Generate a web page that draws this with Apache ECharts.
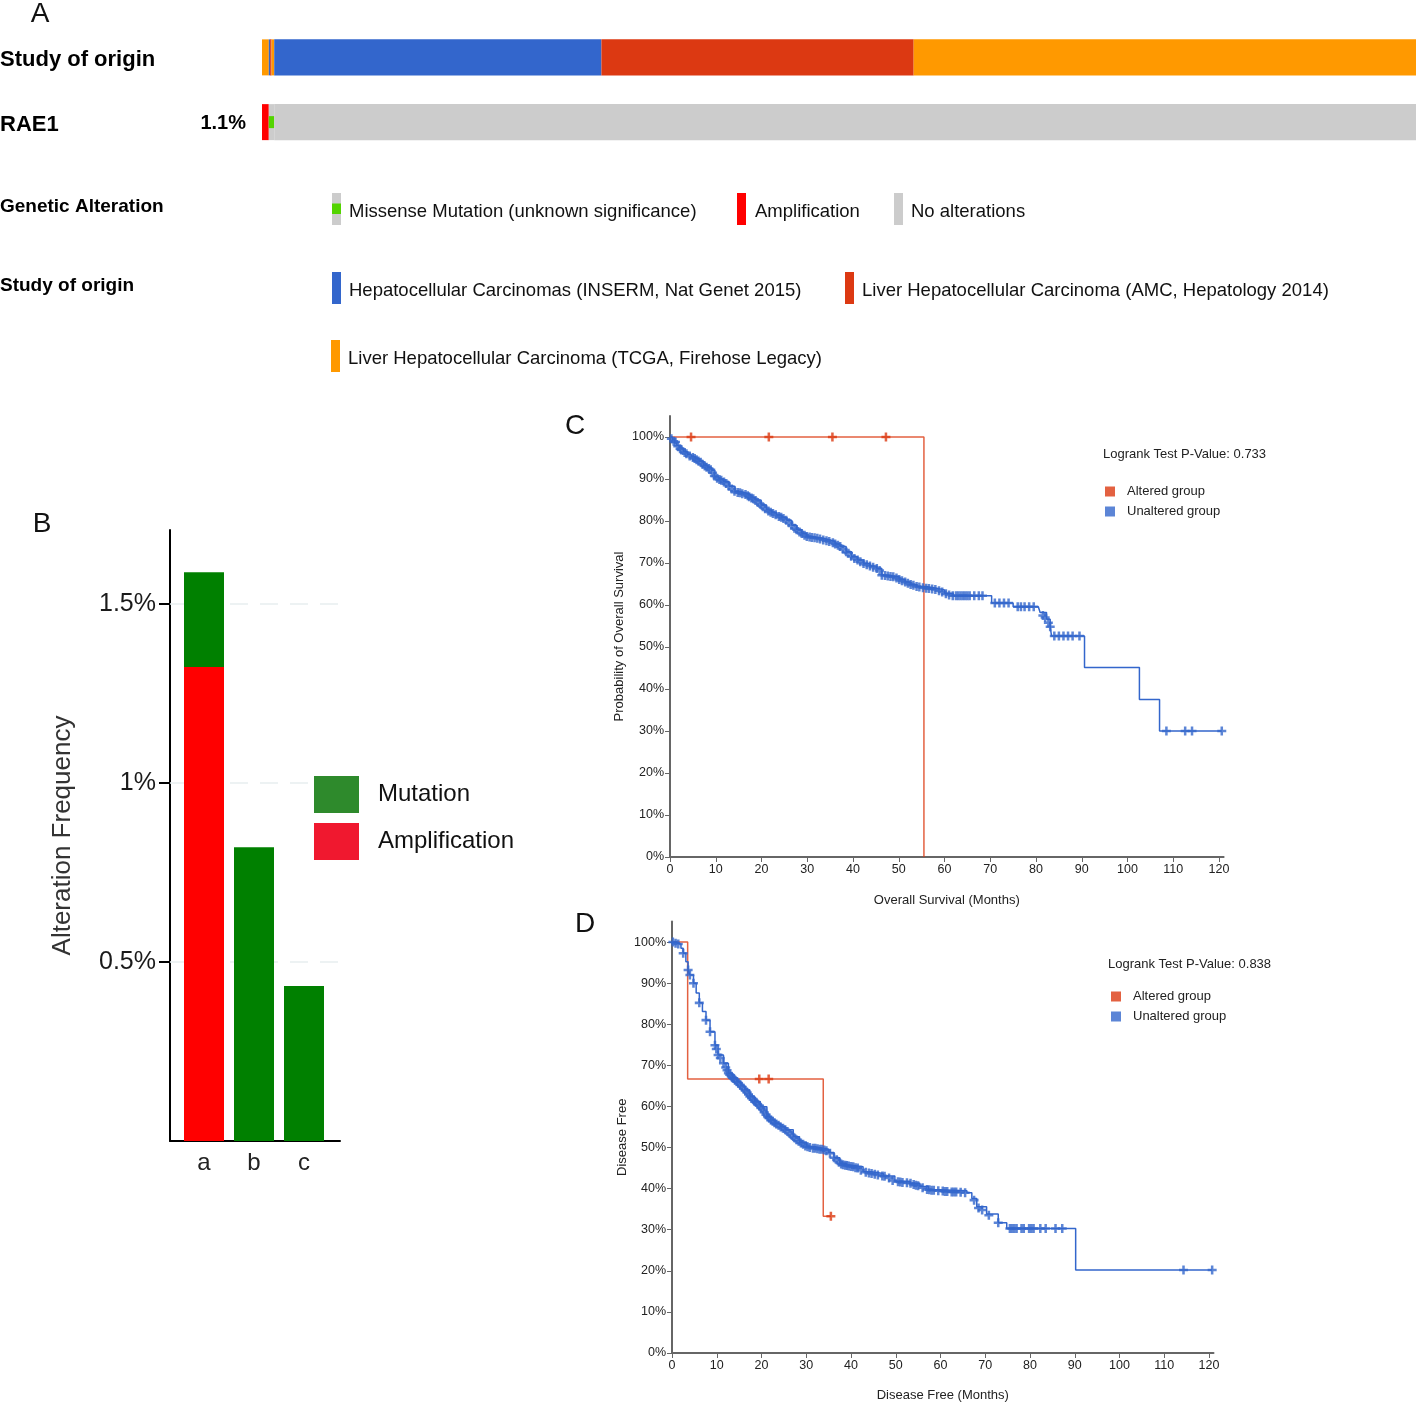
<!DOCTYPE html>
<html>
<head>
<meta charset="utf-8">
<title>RAE1 alterations and survival</title>
<script src="https://cdn.jsdelivr.net/npm/echarts@6/dist/echarts.min.js"></script>
<style>
  html, body { margin: 0; padding: 0; background: #fff; }
  #main { width: 1416px; height: 1403px; }
</style>
</head>
<body>
<div id="main"></div>
<script>
// ---------- data ----------
// A: oncoprint rows, samples in plot order (counts per run of samples)
const oncoRows = ['Study of origin', 'RAE1']
const studyNames = ['TCGA', 'INSERM', 'AMC', 'TCGA', 'INSERM', 'AMC', 'TCGA']
const studyCounts = [5, 1, 1, 2, 241, 230, 370]
const rae1Kinds = ['Amplification', 'Missense', 'None']
const rae1Counts = [5, 4, 841]

// B: alteration frequency (%)
const freqCategories = ['a', 'b', 'c']
const amplificationFreq = [1.324, 0, 0]
const mutationFreq = [0.265, 0.821, 0.433]
const freqTicks = [0.5, 1, 1.5]

// shared tick labels for the survival plots
const pctTicks = [0, 10, 20, 30, 40, 50, 60, 70, 80, 90, 100]
const monthTicks = [0, 10, 20, 30, 40, 50, 60, 70, 80, 90, 100, 110, 120]

// C: overall survival [month, %]
const osAltered = [[0, 100], [55.5, 0]]
const osAlteredCensor = [[4.6, 100], [21.6, 100], [35.5, 100], [47.2, 100]]
const osUnaltered = [
  [0, 100], [0.5, 99.3], [1, 98.6], [1.5, 98], [2, 97.4], [2.9, 96.5], [3.8, 95.8], [4.7, 95.3],
  [5.5, 94.8], [6.4, 94.2], [7.3, 93.3], [8.2, 92.7], [9.1, 92.1], [9.8, 90.5], [10.7, 90],
  [11.7, 89.4], [12.9, 88.3], [14.2, 87], [15.5, 86.6], [16.8, 86.2], [17.7, 85.6], [18.6, 85],
  [19.9, 83.8], [21.1, 82.6], [22.2, 82], [23.3, 81.4], [24.4, 80.8], [25.5, 80.2], [26.6, 79],
  [27.7, 77.9], [28.8, 77], [29.9, 76.3], [31, 76.1], [32.1, 75.9], [33.5, 75.5], [35, 75.1],
  [36.1, 74.5], [37.2, 73.9], [38.5, 72.7], [39.7, 71.5], [41, 70.7], [42.3, 69.9], [43.7, 69.3],
  [45.2, 68.7], [46.3, 67.1], [47.6, 66.9], [48.8, 66.7], [50.1, 66.1], [51.4, 65.5], [52.6, 64.9],
  [53.9, 64.4], [56, 64], [58.3, 63.6], [60, 62.8], [61.9, 62.2], [69.2, 62.2], [70.3, 60.5],
  [74.3, 60.5], [75, 59.6], [80.5, 59.6], [80.9, 58.2], [82.3, 56.6], [83.1, 54.8], [83.4, 52.6],
  [90.6, 45.1], [102.6, 37.5], [107, 30], [120.6, 30]
]
const osUnalteredCensor = [
  [0.3, 99.6], [0.8, 99], [1.2, 98.8], [1.7, 97.8], [2.2, 97.2], [2.5, 96.9], [3.2, 96.3], [3.6, 96],
  [4.3, 95.5], [5, 95.1], [5.4, 94.9], [5.8, 94.6], [6.2, 94.3], [6.7, 94], [7.1, 93.5], [7.6, 93.1],
  [8, 92.8], [8.5, 92.5], [8.9, 92.2], [9.3, 91.5], [9.7, 90.7], [10.3, 90.2], [10.8, 89.9],
  [11.2, 89.7], [11.8, 89.3], [12.3, 88.9], [12.9, 88.3], [13.5, 87.6], [14.1, 87.1], [14.8, 86.8],
  [15.3, 86.7], [15.8, 86.5], [16.5, 86.3], [17, 86], [17.3, 85.8], [17.8, 85.5], [18.2, 85.3],
  [18.7, 84.9], [19.2, 84.4], [19.8, 83.9], [20.3, 83.4], [20.8, 82.9], [21.5, 82.4], [22, 82.1],
  [22.5, 81.8], [23.1, 81.5], [23.8, 81.1], [24.3, 80.9], [24.8, 80.6], [25.4, 80.2], [26, 79.6],
  [26.6, 79], [27.2, 78.3], [27.7, 77.9], [28.3, 77.4], [28.8, 77], [29.4, 76.6], [29.9, 76.3],
  [30.5, 76.2], [31, 76.1], [31.6, 76], [32.2, 75.9], [32.8, 75.7], [33.5, 75.5], [34.2, 75.3],
  [34.8, 75.1], [35.6, 74.8], [36.1, 74.5], [36.7, 74.2], [37.2, 73.9], [37.8, 73.3], [38.5, 72.7],
  [39, 72.3], [39.6, 71.6], [40.3, 71.1], [41, 70.7], [41.6, 70.3], [42.3, 69.9], [43, 69.6],
  [43.7, 69.3], [44.4, 69], [45.2, 68.7], [45.8, 68.2], [46.3, 67.1], [47, 67], [47.6, 66.9],
  [48.2, 66.8], [48.8, 66.7], [49.5, 66.4], [50.1, 66.1], [50.7, 65.8], [51.4, 65.5], [52, 65.2],
  [52.6, 64.9], [53.2, 64.7], [53.9, 64.4], [54.5, 64.3], [55.3, 64.1], [56, 64], [56.6, 63.9],
  [57.3, 63.8], [58, 63.7], [58.8, 63.4], [59.5, 63.1], [60.3, 62.7], [61, 62.4], [61.8, 62.2],
  [62.5, 62.2], [63, 62.2], [63.5, 62.2], [64, 62.2], [64.5, 62.2], [65, 62.2], [65.5, 62.2],
  [66.5, 62.2], [67.5, 62.2], [68.3, 62.2], [71, 60.5], [72, 60.5], [73, 60.5], [74, 60.5],
  [76, 59.6], [76.7, 59.6], [77.5, 59.6], [78.5, 59.6], [79.5, 59.6], [81.5, 57.5], [82, 57],
  [82.7, 55.8], [83.1, 54.8], [84, 52.6], [85, 52.6], [86, 52.6], [87, 52.6], [88, 52.6],
  [89.5, 52.6], [108.5, 30], [112.6, 30], [114.1, 30], [120.6, 30]
]

// D: disease free [month, %]
const dfAltered = [[0, 100], [3.5, 66.7], [33.8, 33.3], [35.5, 33.3]]
const dfAlteredCensor = [[19.5, 66.7], [21.6, 66.7], [35.5, 33.3]]
const dfUnaltered = [
  [0, 100], [0.3, 100], [0.8, 99.7], [1.4, 99.5], [2, 98.5], [2.5, 97.3], [3.1, 95.2], [3.6, 93.2],
  [4, 92], [4.8, 90], [5.4, 87.6], [6.1, 85.2], [6.8, 83.1], [7.6, 81], [8.5, 78.2], [9.6, 74.9],
  [10.3, 72.5], [11.5, 70.5], [12.6, 68.1], [13.5, 67], [14.5, 66], [15.4, 65], [16.3, 64],
  [17.4, 62.4], [18.5, 61.2], [19.7, 59.9], [21.2, 57.5], [22, 56.7], [23, 55.9], [24.2, 55.1],
  [25.3, 54.3], [27.1, 52.6], [28.5, 51.3], [30.1, 50.2], [32, 49.8], [33.8, 49.6], [35, 48.8],
  [36.2, 47.5], [37.5, 46.2], [39, 45.6], [40.5, 45.3], [42.7, 44.1], [44.6, 43.7], [47.2, 43.1],
  [49.8, 41.8], [53.2, 41.3], [55.4, 40.5], [57.3, 39.7], [59.9, 39.5], [65.9, 39], [67, 37.6],
  [68.1, 35.6], [70.3, 33.8], [72.9, 31.7], [74.8, 30.3], [90.2, 20.2], [120.7, 20.2]
]
const dfUnalteredCensor = [
  [0.2, 100], [0.8, 99.7], [1.4, 99.5], [2.5, 97.3], [3.6, 93.2], [4, 92], [4.8, 90], [6.1, 85.2],
  [7.6, 81], [8.5, 78.2], [9.6, 74.9], [9.9, 74], [10.3, 72.5], [10.8, 71.8], [11.5, 70.5],
  [12, 69.5], [12.3, 68.8], [12.6, 68.1], [12.9, 67.7], [13.2, 67.4], [13.5, 67], [13.8, 66.8],
  [14.1, 66.4], [14.5, 66], [14.8, 65.7], [15.2, 65.3], [15.6, 64.8], [16, 64.3], [16.4, 63.9],
  [16.8, 63.4], [17.1, 62.9], [17.4, 62.4], [17.8, 62], [18.2, 61.6], [18.5, 61.2], [18.8, 61],
  [19.1, 60.6], [19.5, 60.2], [19.9, 59.6], [20.3, 59.2], [20.6, 58.6], [21, 58], [21.4, 57.4],
  [21.7, 57.2], [22.1, 56.7], [22.5, 56.4], [22.9, 56], [23.3, 55.7], [23.8, 55.4], [24.3, 55],
  [24.8, 54.7], [25.3, 54.3], [25.8, 53.9], [26.3, 53.4], [26.8, 52.9], [27.3, 52.4], [27.8, 51.9],
  [28.3, 51.5], [28.8, 51.1], [29.3, 50.8], [29.8, 50.4], [30.3, 50.2], [30.8, 50], [31.5, 49.8],
  [32, 49.8], [32.5, 49.7], [33, 49.6], [33.5, 49.6], [34, 49.4], [34.5, 49.2], [35.3, 48.6],
  [36.2, 47.5], [36.8, 47], [37.3, 46.4], [37.8, 46], [38.2, 45.8], [38.7, 45.7], [39.1, 45.6],
  [39.5, 45.5], [40, 45.4], [40.5, 45.3], [41, 45.1], [41.5, 45], [42.2, 44.5], [43.3, 44],
  [44, 43.8], [44.6, 43.7], [45.3, 43.5], [46, 43.3], [47, 43.1], [47.5, 43], [48.5, 42.6],
  [49.3, 42], [50.5, 41.7], [51, 41.6], [51.5, 41.5], [52.5, 41.4], [53.3, 41.3], [54, 41],
  [54.5, 40.8], [55, 40.7], [56, 40.2], [57, 39.8], [57.5, 39.7], [58, 39.6], [58.5, 39.6],
  [59.5, 39.5], [60.5, 39.4], [61, 39.3], [61.5, 39.3], [62.5, 39.2], [63, 39.2], [63.5, 39.2],
  [64.5, 39.1], [65.5, 39], [67.5, 37.2], [68.5, 35.3], [69.3, 34.8], [70.8, 33.5], [72.9, 31.7],
  [75.5, 30.3], [76, 30.3], [76.5, 30.3], [77, 30.3], [78.1, 30.3], [78.6, 30.3], [79.8, 30.3],
  [80.3, 30.3], [80.8, 30.3], [82.3, 30.3], [83.5, 30.3], [85.7, 30.3], [87.2, 30.3],
  [114.3, 20.2], [120.7, 20.2]
]

// ---------- styles ----------
const FONT = 'Liberation Sans, Arial, Helvetica, sans-serif'
const oncoKinds = ['TCGA', 'INSERM', 'AMC', 'Amplification', 'Missense', 'None']
const oncoColors = {
  TCGA: '#ff9900',
  INSERM: '#3366cc',
  AMC: '#dc3912',
  Amplification: '#ff0000',
  Missense: '#53d400',
  None: '#cccccc'
}
const kmRed = '#dc3912'
const kmBlue = '#3366cc'
const axisGray = '#666'
// censor mark: a filled plus sign
const plusSymbol = 'path://M3.6,0H6.4V3.6H10V6.4H6.4V10H3.6V6.4H0V3.6H3.6Z'

// turn run lengths into [start, end, row, kind] items
const buildRow = (names, counts, row) => {
  let pos = 0
  return names.map((n, i) => {
    const item = [pos, pos + counts[i], row, oncoKinds.indexOf(n)]
    pos += counts[i]
    return item
  })
}
const oncoData = buildRow(studyNames, studyCounts, 0).concat(buildRow(rae1Kinds, rae1Counts, 1))
const sampleTotal = rae1Counts.reduce((a, b) => a + b, 0)
const alteredPct = ((rae1Counts[0] + rae1Counts[1]) / sampleTotal * 100).toFixed(1) + '%'

const renderOnco = (params, api) => {
  const p0 = api.coord([api.value(0), api.value(2)])
  const p1 = api.coord([api.value(1), api.value(2)])
  const h = api.size([0, 1])[1] * 0.556
  const kind = oncoKinds[api.value(3)]
  const w = p1[0] - p0[0]
  const children = [{
    type: 'rect',
    shape: { x: p0[0], y: p0[1] - h / 2, width: w, height: h },
    style: { fill: kind === 'Missense' ? oncoColors.None : oncoColors[kind] }
  }]
  if (kind === 'Missense') {
    children.push({
      type: 'rect',
      shape: { x: p0[0], y: p0[1] - h / 6, width: w, height: h / 3 },
      style: { fill: oncoColors.Missense }
    })
  }
  return { type: 'group', children }
}

// ---------- survival axes ----------
const kmXAxis = (gridIndex, name, gap) => ({
  type: 'value', gridIndex, min: 0, max: 121,
  name, nameLocation: 'middle', nameGap: gap,
  nameTextStyle: { fontSize: 13, color: '#222', fontFamily: FONT },
  axisLine: { show: true, lineStyle: { color: axisGray, width: 2 } },
  axisTick: { show: true, customValues: monthTicks, length: 5, lineStyle: { color: axisGray } },
  axisLabel: { customValues: monthTicks, fontSize: 12.5, color: '#222', margin: 6, fontFamily: FONT },
  splitLine: { show: false }
})
const kmYAxis = (gridIndex, name, gap) => ({
  type: 'value', gridIndex, min: 0, max: 105,
  name, nameLocation: 'middle', nameGap: gap,
  nameTextStyle: { fontSize: 13, color: '#222', fontFamily: FONT },
  axisLine: { show: true, lineStyle: { color: axisGray, width: 2 } },
  axisTick: { show: true, customValues: pctTicks, length: 5, lineStyle: { color: axisGray } },
  axisLabel: { customValues: pctTicks, formatter: v => v + '%', fontSize: 12.5, color: '#222', margin: 6, fontFamily: FONT },
  splitLine: { show: false }
})
const censorSeries = (name, idx, data, color) => ({
  name, type: 'scatter', xAxisIndex: idx, yAxisIndex: idx,
  symbol: plusSymbol, symbolSize: 9, data, z: 4,
  itemStyle: { color }
})
const curveSeries = (name, idx, data, color, opacity) => ({
  name, type: 'line', xAxisIndex: idx, yAxisIndex: idx,
  step: 'end', showSymbol: false, data, z: 3,
  itemStyle: { color },
  lineStyle: { color, width: 1.5, opacity }
})
const kmLegend = (left, top) => ({
  data: ['Altered group', 'Unaltered group'],
  left, top, orient: 'vertical', icon: 'rect',
  itemWidth: 10, itemHeight: 10, itemGap: 7, selectedMode: false,
  textStyle: { fontSize: 13, color: '#222', fontFamily: FONT, padding: [0, 0, 0, 7] }
})

// ---------- text & panel A legend ----------
const txt = (text, x, y, size, opts = {}) => ({
  type: 'text', x, y,
  style: Object.assign({
    text, fontSize: size, fontFamily: FONT, fill: '#111',
    align: 'left', verticalAlign: 'middle'
  }, opts)
})
const box = (x, y, w, h, fill) => ({ type: 'rect', shape: { x, y, width: w, height: h }, style: { fill } })

const graphics = [
  txt('A', 40, 14, 28, { align: 'center' }),
  txt('B', 42, 524, 28, { align: 'center' }),
  txt('C', 575, 426, 28, { align: 'center' }),
  txt('D', 585, 924, 28, { align: 'center' }),
  txt(alteredPct, 246, 123, 20, { align: 'right', fontWeight: 'bold', fill: '#000' }),
  txt('Genetic Alteration', 0, 207, 19, { fontWeight: 'bold', fill: '#000' }),
  txt('Study of origin', 0, 286, 19, { fontWeight: 'bold', fill: '#000' }),
  box(332, 193, 9, 32, oncoColors.None),
  box(332, 203.5, 9, 10.5, oncoColors.Missense),
  txt('Missense Mutation (unknown significance)', 349, 212, 18.5),
  box(737, 193, 9, 32, oncoColors.Amplification),
  txt('Amplification', 755, 212, 18.5),
  box(894, 193, 9, 32, oncoColors.None),
  txt('No alterations', 911, 212, 18.5),
  box(332, 272, 9, 32, oncoColors.INSERM),
  txt('Hepatocellular Carcinomas (INSERM, Nat Genet 2015)', 349, 291, 18.5),
  box(845, 272, 9, 32, oncoColors.AMC),
  txt('Liver Hepatocellular Carcinoma (AMC, Hepatology 2014)', 862, 291, 18.5),
  box(331, 340, 9, 32, oncoColors.TCGA),
  txt('Liver Hepatocellular Carcinoma (TCGA, Firehose Legacy)', 348, 359, 18.5),
  txt('Logrank Test P-Value: 0.733', 1103, 454, 13, { fill: '#222' }),
  txt('Logrank Test P-Value: 0.838', 1108, 964, 13, { fill: '#222' })
]

// ---------- chart ----------
const chart = echarts.init(document.getElementById('main'), null, { renderer: 'canvas' })

const option = {
  animation: false,
  backgroundColor: '#fff',
  textStyle: { fontFamily: FONT },
  grid: [
    { left: 262, top: 25, width: 1154, height: 129.5, outerBoundsMode: 'none' },
    { left: 170, top: 530, width: 170, height: 611, outerBoundsMode: 'none' },
    { left: 670, top: 416, width: 553.6, height: 441, outerBoundsMode: 'none' },
    { left: 672, top: 921.5, width: 541.5, height: 431.5, outerBoundsMode: 'none' }
  ],
  xAxis: [
    { type: 'value', gridIndex: 0, min: 0, max: sampleTotal, show: false },
    {
      type: 'value', gridIndex: 1, min: 0.32, max: 3.72,
      axisLine: { show: true, lineStyle: { color: '#000', width: 2 } },
      axisTick: { show: false },
      axisLabel: {
        customValues: [1, 2, 3], formatter: v => freqCategories[Math.round(v) - 1],
        fontSize: 24, color: '#222', margin: 10
      },
      splitLine: { show: false }
    },
    kmXAxis(2, 'Overall Survival (Months)', 37),
    kmXAxis(3, 'Disease Free (Months)', 36)
  ],
  yAxis: [
    {
      type: 'category', gridIndex: 0, data: oncoRows, inverse: true,
      axisLine: { show: false }, axisTick: { show: false },
      axisLabel: {
        align: 'left', verticalAlign: 'top', lineHeight: 5, margin: 262,
        fontSize: 22, fontWeight: 'bold', color: '#000'
      }
    },
    {
      type: 'value', gridIndex: 1, min: 0, max: 1.707,
      name: 'Alteration Frequency', nameLocation: 'middle', nameGap: 94,
      nameTextStyle: { fontSize: 26, color: '#333' },
      axisLine: { show: true, lineStyle: { color: '#000', width: 2 } },
      axisTick: { show: true, customValues: freqTicks, length: 11, lineStyle: { color: '#000', width: 2 } },
      axisLabel: { customValues: freqTicks, formatter: v => v + '%', fontSize: 25, color: '#1a1a1a', margin: 14 },
      splitLine: { show: false }
    },
    kmYAxis(2, 'Probability of Overall Survival', 44),
    kmYAxis(3, 'Disease Free', 43)
  ],
  legend: [
    {
      data: [
        { name: 'Mutation', itemStyle: { color: '#2e8a2c' } },
        { name: 'Amplification', itemStyle: { color: '#f0182f' } }
      ],
      left: 309, top: 771, orient: 'vertical', icon: 'rect',
      itemWidth: 45, itemHeight: 37, itemGap: 10, selectedMode: false,
      textStyle: { fontSize: 24, color: '#111', padding: [0, 0, 0, 14] }
    },
    kmLegend(1100, 480),
    kmLegend(1106, 985)
  ],
  graphic: { elements: graphics },
  series: [
    // A
    {
      type: 'custom', xAxisIndex: 0, yAxisIndex: 0,
      renderItem: renderOnco, encode: { x: [0, 1], y: 2 }, data: oncoData
    },
    // B: faint reference lines under the bars
    {
      type: 'line', xAxisIndex: 1, yAxisIndex: 1, data: [], z: 1,
      markLine: {
        silent: true, symbol: 'none', label: { show: false }, z: 1,
        lineStyle: { color: '#e8eef0', width: 1.5, type: [18, 12] },
        data: freqTicks.map(v => ({ yAxis: v }))
      }
    },
    // mutation sits on top of amplification: its bar spans up to the summed height
    {
      name: 'Mutation', type: 'bar', xAxisIndex: 1, yAxisIndex: 1,
      barWidth: 40, barGap: '-100%', itemStyle: { color: '#008000' }, z: 2,
      data: mutationFreq.map((v, i) => [i + 1, v + amplificationFreq[i]])
    },
    {
      name: 'Amplification', type: 'bar', xAxisIndex: 1, yAxisIndex: 1,
      barWidth: 40, barGap: '-100%', itemStyle: { color: '#ff0000' }, z: 3,
      data: amplificationFreq.map((v, i) => [i + 1, v])
    },
    // C
    censorSeries('Altered group', 2, osAlteredCensor, kmRed),
    censorSeries('Unaltered group', 2, osUnalteredCensor, kmBlue),
    curveSeries('Altered group', 2, osAltered, kmRed, 0.8),
    curveSeries('Unaltered group', 2, osUnaltered, kmBlue, 1),
    // D
    censorSeries('Altered group', 3, dfAlteredCensor, kmRed),
    censorSeries('Unaltered group', 3, dfUnalteredCensor, kmBlue),
    curveSeries('Altered group', 3, dfAltered, kmRed, 0.8),
    curveSeries('Unaltered group', 3, dfUnaltered, kmBlue, 1)
  ]
}

chart.setOption(option)
</script>
</body>
</html>
